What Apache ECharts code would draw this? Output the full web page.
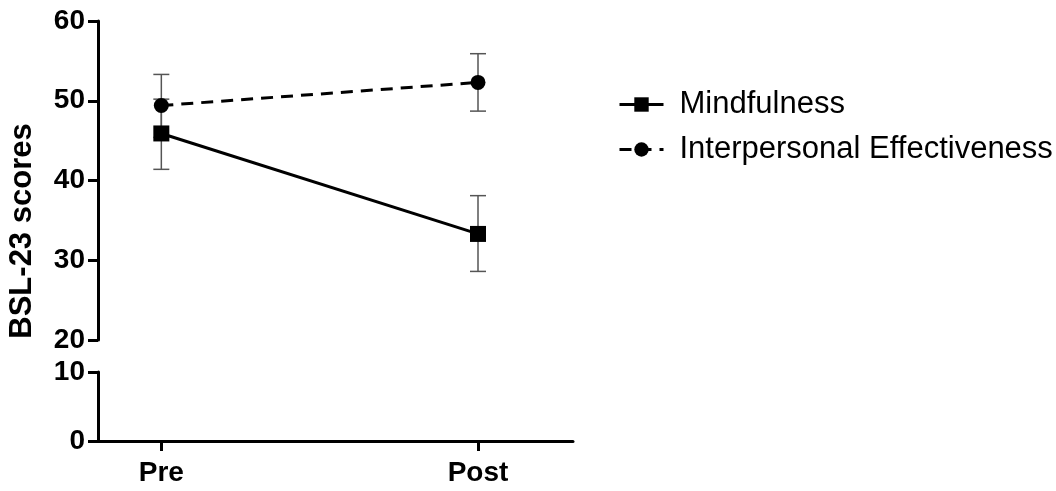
<!DOCTYPE html>
<html>
<head>
<meta charset="utf-8">
<script src="https://cdn.jsdelivr.net/npm/echarts@6/dist/echarts.min.js"></script>
<style>html,body{margin:0;padding:0;background:#fff}#c{width:1056px;height:491px}</style>
</head>
<body>
<div id="c"></div>
<script>
const categories = ['Pre', 'Post'];
const seriesNames = ['Mindfulness', 'Interpersonal Effectiveness'];
const mindMean = [45.9, 33.3];
const mindLow = [41.4, 28.6];
const mindHigh = [50.2, 38.1];
const ipeMean = [49.4, 52.3];
const ipeLow = [45.4, 48.7];
const ipeHigh = [53.3, 55.9];
const upperRange = [20, 60];
const lowerRange = [0, 10];
const yTitle = 'BSL-23 scores';

const FONT = 'Arial, "Liberation Sans", sans-serif';
const axisCommon = {
  axisLine: { show: true, onZero: false, lineStyle: { color: '#000', width: 3 } },
  axisTick: { show: true, length: 10, lineStyle: { color: '#000', width: 3 } },
  splitLine: { show: false },
  axisLabel: { color: '#000', fontWeight: 'bold', fontSize: 28, fontFamily: FONT, margin: 13 }
};

function pts(arr) { return arr.map((v, i) => [i, v]); }
function errData(lo, hi) { return lo.map((v, i) => [i, v, hi[i]]); }

function errRender(params, api) {
  const x = api.value(0);
  const p1 = api.coord([x, api.value(1)]);
  const p2 = api.coord([x, api.value(2)]);
  const hw = 8;
  const style = { stroke: '#555', lineWidth: 1.5 };
  return {
    type: 'group',
    children: [
      { type: 'line', shape: { x1: p1[0], y1: p1[1], x2: p2[0], y2: p2[1] }, style },
      { type: 'line', shape: { x1: p1[0] - hw, y1: p1[1], x2: p1[0] + hw, y2: p1[1] }, style },
      { type: 'line', shape: { x1: p2[0] - hw, y1: p2[1], x2: p2[0] + hw, y2: p2[1] }, style }
    ]
  };
}

const xBase = { type: 'value', min: -0.2, max: 1.3 };

const option = {
  animation: false,
  backgroundColor: '#fff',
  grid: [
    { left: 98, width: 475, top: 21, height: 319 },
    { left: 98, width: 475, top: 372, height: 69 },
    { left: 98, width: 475, top: 21, height: 420 }
  ],
  xAxis: [
    Object.assign({}, xBase, { gridIndex: 0, show: false }),
    Object.assign({}, xBase, axisCommon, {
      gridIndex: 1,
      axisTick: { show: true, length: 10, lineStyle: { color: '#000', width: 3 }, customValues: [0, 1] },
      axisLabel: Object.assign({}, axisCommon.axisLabel, { customValues: [0, 1], margin: 18, formatter: v => categories[Math.round(v)] })
    }),
    Object.assign({}, xBase, { gridIndex: 2, show: false })
  ],
  yAxis: [
    Object.assign({ type: 'value', gridIndex: 0, min: upperRange[0], max: upperRange[1], interval: 10 }, axisCommon),
    Object.assign({ type: 'value', gridIndex: 1, min: lowerRange[0], max: lowerRange[1], interval: 10 }, axisCommon),
    {
      type: 'value', gridIndex: 2, min: 0, max: 1,
      axisLine: { show: false }, axisTick: { show: false }, axisLabel: { show: false }, splitLine: { show: false },
      name: yTitle, nameLocation: 'middle', nameGap: 60,
      nameTextStyle: { color: '#000', fontWeight: 'bold', fontSize: 31, fontFamily: FONT }
    }
  ],
  legend: {
    orient: 'vertical',
    left: 613,
    top: 84,
    itemWidth: 44,
    itemHeight: 18,
    itemGap: 14,
    lineStyle: { width: 3 },
    textStyle: { color: '#000', fontSize: 31, fontFamily: FONT, padding: [0, 0, 0, 11] },
    data: seriesNames
  },
  series: [
    {
      type: 'custom', xAxisIndex: 0, yAxisIndex: 0, z: 1,
      renderItem: errRender, data: errData(mindLow, mindHigh), silent: true
    },
    {
      type: 'custom', xAxisIndex: 0, yAxisIndex: 0, z: 1,
      renderItem: errRender, data: errData(ipeLow, ipeHigh), silent: true
    },
    {
      name: seriesNames[0], type: 'line', xAxisIndex: 0, yAxisIndex: 0, z: 3,
      data: pts(mindMean), symbol: 'rect', symbolSize: 16,
      lineStyle: { color: '#000', width: 3 }, itemStyle: { color: '#000' }
    },
    {
      name: seriesNames[1], type: 'line', xAxisIndex: 0, yAxisIndex: 0, z: 3,
      data: pts(ipeMean), symbol: 'circle', symbolSize: 15,
      lineStyle: { color: '#000', width: 3, type: [12, 8] }, itemStyle: { color: '#000' }
    }
  ]
};

const chart = echarts.init(document.getElementById('c'), null, { renderer: 'canvas' });
chart.setOption(option);
</script>
</body>
</html>
